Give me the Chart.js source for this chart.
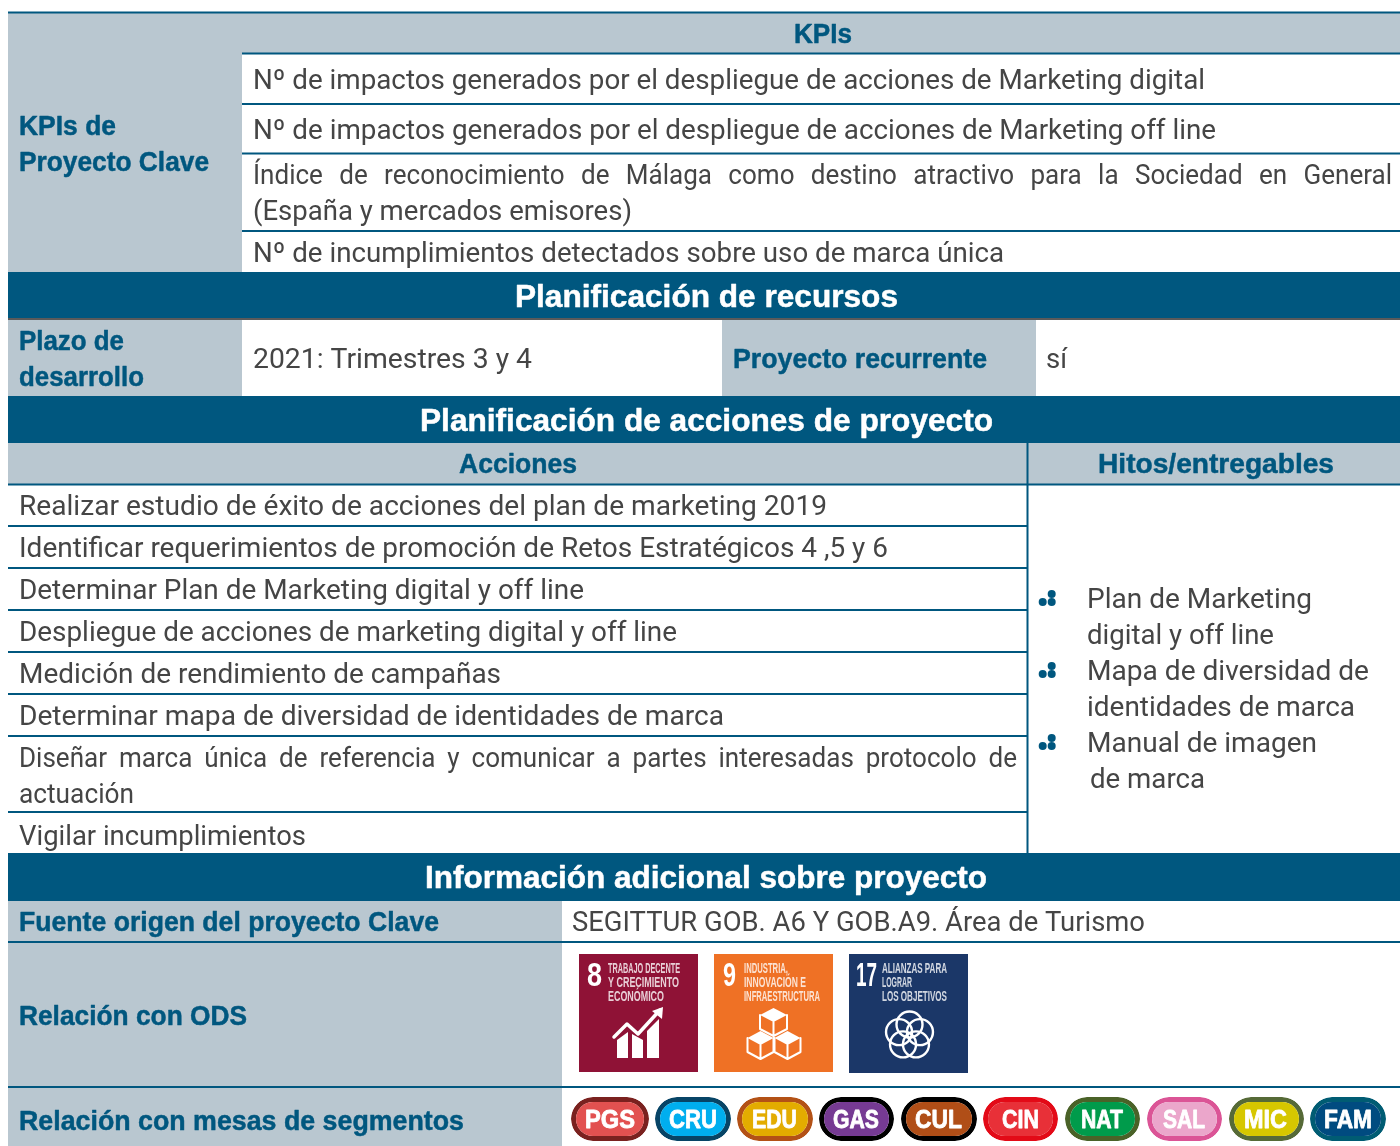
<!DOCTYPE html>
<html lang="es"><head><meta charset="utf-8"><title>KPIs de Proyecto Clave</title>
<style>html,body{margin:0;padding:0;background:#fff}canvas{display:block}</style>
<script src="https://cdn.jsdelivr.net/npm/chart.js@4"></script></head>
<body><canvas id="c" width="1400" height="1146"></canvas>
<script>
// ---------- content ----------
const kpiTitle = ["KPIs de", "Proyecto Clave"];
const kpiHeader = "KPIs";
const kpis = [
 "Nº de impactos generados por el despliegue de acciones de Marketing digital",
 "Nº de impactos generados por el despliegue de acciones de Marketing off line",
 "Índice de reconocimiento de Málaga como destino atractivo para la Sociedad en General",
 "(España y mercados emisores)",
 "Nº de incumplimientos detectados sobre uso de marca única"];
const bands = ["Planificación de recursos", "Planificación de acciones de proyecto", "Información adicional sobre proyecto"];
const plazoLabel = ["Plazo de", "desarrollo"];
const plazoValue = "2021: Trimestres 3 y 4";
const recurrenteLabel = "Proyecto recurrente";
const recurrenteValue = "sí";
const columnHeaders = ["Acciones", "Hitos/entregables"];
const actions = [
 "Realizar estudio de éxito de acciones del plan de marketing 2019",
 "Identificar requerimientos de promoción de Retos Estratégicos 4 ,5 y 6",
 "Determinar Plan de Marketing digital y off line",
 "Despliegue de acciones de marketing digital y off line",
 "Medición de rendimiento de campañas",
 "Determinar mapa de diversidad de identidades de marca",
 "Diseñar marca única de referencia y comunicar a partes interesadas protocolo de",
 "actuación",
 "Vigilar incumplimientos"];
const deliverables = ["Plan de Marketing","digital y off line","Mapa de diversidad de","identidades de marca","Manual de imagen","de marca"];
const infoLabels = ["Fuente origen del proyecto Clave","Relación con ODS","Relación con mesas de segmentos"];
const infoSource = "SEGITTUR GOB. A6 Y GOB.A9. Área de Turismo";
const odsNumbers = ["8","9","17"];
const odsTitles = [["TRABAJO DECENTE","Y CRECIMIENTO","ECONÓMICO"],["INDUSTRIA,","INNOVACIÓN E","INFRAESTRUCTURA"],["ALIANZAS PARA","LOGRAR","LOS OBJETIVOS"]];
const segments = ["PGS","CRU","EDU","GAS","CUL","CIN","NAT","SAL","MIC","FAM"];

// ---------- layout and style ----------
const TEAL="#00577F", GREY="#B9C7D0", INK="#454545", WHITE="#fff", MAROON="#8F1236";
const cells=[ // x0,x1,y0,y1,colour
 [8,242,12,272,GREY],[242,1400,12,54,GREY],
 [8,1400,272,319,TEAL],[8,242,319,396,GREY],[722,1036,319,396,GREY],
 [8,1400,396,443,TEAL],[8,1400,443,484,GREY],
 [8,1400,853,901,TEAL],[8,562,901,1146,GREY]];
const rules=[ // x0,x1,y,colour,thickness
 [8,1400,12.5,TEAL,2],[242,1400,53.5,TEAL,2],[242,1400,104,TEAL,2],[242,1400,153.5,TEAL,2],[242,1400,231,TEAL,2],
 [8,1400,319,"#5a5a5a",2],[8,1400,484.5,TEAL,2],
 [8,1028,526,TEAL,2],[8,1028,568,TEAL,2],[8,1028,610,TEAL,2],[8,1028,652,TEAL,2],[8,1028,694,TEAL,2],[8,1028,736,TEAL,2],[8,1028,812,TEAL,2],
 [8,1400,942,TEAL,2],[8,1400,1087,TEAL,2]];
const vrules=[[1027.5,443,853,TEAL,2]];
const odsBoxes=[[579,698,954,1072,MAROON],[714,833,954,1072,"#EF7125"],[849,968,954,1073,"#1B3768"]];
const pills=[ // x0,x1,fill,border,text x0,x1
 [571,649,"#E25150","#7A211F",585,635],[655,731,"#00AEEF","#074466",669,717],[737,813,"#E3AC00","#B35116",752,797],
 [819,894,"#763A93","#000000",833,879],[901,977,"#B04E17","#000000",915,962],[983,1058,"#E83038","#E30A17",1002,1039],
 [1065,1140,"#009B4B","#4A6228",1081,1123],[1147,1222,"#EBA6CB","#DB5496",1163,1205],[1229,1304,"#D6C700","#566A37",1244,1287],
 [1310,1386,"#004B80","#005C73",1324,1372]];
const bulletAnchors=[[1042.7,602],[1042.7,674],[1042.7,746]];
const bulletOffsets=[[0,0],[9,0],[9,-8]];
const BODY='28px Roboto', HEAD='bold 28px "Liberation Sans"', BAND='bold 31px "Liberation Sans"';
const texts=[ // string, x0, x1, baseline, font, colour, justify
 [kpiHeader,794,852,43,HEAD,TEAL],
 [kpis[0],253,1205,89,BODY,INK],[kpis[1],253,1216,139,BODY,INK],[kpis[2],253,1392,184,BODY,INK,true],[kpis[3],253,632,220,BODY,INK],[kpis[4],253,1004,262,BODY,INK],
 [kpiTitle[0],19,116,135,HEAD,TEAL],[kpiTitle[1],19,209,171,HEAD,TEAL],
 [bands[0],515,898,307,BAND,WHITE],[bands[1],420,993,431,BAND,WHITE],[bands[2],425,987,888,BAND,WHITE],
 [plazoLabel[0],19,124,350,HEAD,TEAL],[plazoLabel[1],19,144,386,HEAD,TEAL],
 [plazoValue,253,532,368,BODY,INK],[recurrenteLabel,733,987,368,HEAD,TEAL],[recurrenteValue,1046,1067,368,BODY,INK],
 [columnHeaders[0],459,577,473,HEAD,TEAL],[columnHeaders[1],1098,1334,473,HEAD,TEAL],
 [actions[0],19,827,515,BODY,INK],[actions[1],19,888,557,BODY,INK],[actions[2],19,584,599,BODY,INK],[actions[3],19,677,641,BODY,INK],
 [actions[4],19,501,683,BODY,INK],[actions[5],19,724,725,BODY,INK],[actions[6],19,1017,767,BODY,INK,true],[actions[7],19,134,803,BODY,INK],[actions[8],19,306,845,BODY,INK],
 [deliverables[0],1087,1312,608,BODY,INK],[deliverables[1],1087,1274,644,BODY,INK],[deliverables[2],1087,1369,680,BODY,INK],
 [deliverables[3],1087,1355,716,BODY,INK],[deliverables[4],1087,1317,752,BODY,INK],[deliverables[5],1090,1205,788,BODY,INK],
 [infoLabels[0],19,439,931,HEAD,TEAL],[infoSource,572,1145,931,BODY,INK],[infoLabels[1],19,247,1025,HEAD,TEAL],[infoLabels[2],19,464,1130,HEAD,TEAL]];

// ---------- chart marks ----------
const bar=(x0,x1,y0,y1,col,extra)=>Object.assign({type:'bar',grouped:false,inflateAmount:0,barThickness:y1-y0,backgroundColor:col,borderWidth:0,
  data:[{x:[x0,x1],y:(y0+y1)/2}]},extra||{});
const datasets=[];
// Chart.js paints datasets last-to-first, so the top layer goes first.
datasets.push({type:'scatter',pointRadius:4,pointHoverRadius:4,backgroundColor:TEAL,borderWidth:0,
  data:bulletAnchors.flatMap(a=>bulletOffsets.map(o=>({x:a[0]+o[0],y:a[1]+o[1]})))});
pills.forEach(p=>datasets.push(bar(p[0],p[1],1097,1141,p[2],{borderColor:p[3],borderWidth:5,borderRadius:22,borderSkipped:false})));
odsBoxes.forEach(b=>datasets.push(bar(b[0],b[1],b[2],b[3],b[4])));
vrules.forEach(r=>datasets.push(bar(r[0]-r[4]/2,r[0]+r[4]/2,r[1],r[2],r[3])));
rules.forEach(r=>datasets.push(bar(r[0],r[1],r[2]-r[4]/2,r[2]+r[4]/2,r[3])));
cells.forEach(c=>datasets.push(bar(c[0],c[1],c[2],c[3],c[4])));

function fit(ctx,s,x0,x1,y,font,col,just,heavy){
  ctx.font=font;ctx.fillStyle=col;ctx.textBaseline='alphabetic';ctx.textAlign='left';
  ctx.wordSpacing='0px';
  const w=ctx.measureText(s).width;
  ctx.save();
  if(just){
    const k=0.93, gaps=s.split(' ').length-1;
    ctx.wordSpacing=((x1-x0)/k-w)/gaps+'px';
    ctx.translate(x0,y);ctx.scale(k,1);
  }else{
    ctx.translate(x0,y);ctx.scale((x1-x0)/w,1);
  }
  ctx.fillText(s,0,0);
  if(heavy){ctx.strokeStyle=col;ctx.lineWidth=heavy;ctx.lineJoin='round';ctx.strokeText(s,0,0);}
  ctx.restore();
  ctx.wordSpacing='0px';
}
function cube(ctx,cx,top,hw,hh,ey){
  ctx.beginPath();
  ctx.moveTo(cx,top);ctx.lineTo(cx+hw,top+ey);ctx.lineTo(cx,top+2*ey);ctx.lineTo(cx-hw,top+ey);ctx.closePath();
  ctx.fill();
  ctx.beginPath();
  ctx.moveTo(cx-hw,top+ey);ctx.lineTo(cx-hw,top+ey+hh);ctx.lineTo(cx,top+2*ey+hh);ctx.lineTo(cx+hw,top+ey+hh);ctx.lineTo(cx+hw,top+ey);
  ctx.moveTo(cx,top+2*ey);ctx.lineTo(cx,top+2*ey+hh);
  ctx.stroke();
}
const tablePlugin={id:'tableText',afterDatasetsDraw(chart){
  const ctx=chart.ctx,X=chart.scales.x,Y=chart.scales.y;
  const px=v=>X.getPixelForValue(v),py=v=>Y.getPixelForValue(v);
  texts.forEach(t=>fit(ctx,t[0],px(t[1]),px(t[2]),py(t[3]),t[4],t[5],t[6],t[4]===BODY?0:0.5));
  pills.forEach((p,i)=>fit(ctx,segments[i],px(p[4]),px(p[5]),py(1128),'bold 25px "Liberation Sans"',WHITE,false,0.8));
  // ODS tiles
  const titleX=[608,744,882];
  const numX=[[587,602],[723,736],[856,877]];
  const titleW=[[72,71,56],[44,62,76],[65,30,65]];
  ctx.save();ctx.filter='blur(0.5px)';
  odsBoxes.forEach((b,i)=>{
    fit(ctx,odsNumbers[i],px(numX[i][0]),px(numX[i][1]),py(986),'bold 33px "Liberation Sans"',WHITE);
    odsTitles[i].forEach((s,j)=>{ctx.save();ctx.globalAlpha=.8;fit(ctx,s,px(titleX[i]),px(titleX[i]+titleW[i][j]),py(973+14*j),'bold 14px "Liberation Sans"',WHITE);ctx.restore();});
  });
  ctx.fillStyle=WHITE;ctx.strokeStyle=WHITE;ctx.lineJoin='round';ctx.lineCap='round';
  // growth icon
  [[[617,1040],[628,1032],[628,1058],[617,1058]],[[632,1034],[643,1040],[643,1058],[632,1058]],[[647,1031],[659,1019],[659,1058],[647,1058]]].forEach(poly=>{
    ctx.beginPath();poly.forEach((q,n)=>n?ctx.lineTo(px(q[0]),py(q[1])):ctx.moveTo(px(q[0]),py(q[1])));ctx.closePath();ctx.fill();});
  ctx.strokeStyle=WHITE;ctx.lineWidth=3.5;ctx.beginPath();ctx.moveTo(px(614),py(1037));ctx.lineTo(px(627),py(1024));ctx.lineTo(px(638),py(1034));ctx.lineTo(px(660),py(1010));ctx.stroke();
  ctx.beginPath();ctx.moveTo(px(652),py(1011));ctx.lineTo(px(663),py(1007));ctx.lineTo(px(662),py(1019));ctx.closePath();ctx.fill();
  // cube icon
  ctx.lineWidth=2;
  cube(ctx,px(773.5),py(1008),13.5,14,7);
  cube(ctx,px(760.5),py(1031),13,14,7);
  cube(ctx,px(787.5),py(1031),13,14,7);
  // flower icon
  ctx.lineWidth=2.4;
  for(let k=0;k<5;k++){const a=(-90+72*k)*Math.PI/180;ctx.beginPath();ctx.arc(px(909.5)+11*Math.cos(a),py(1035.5)+11*Math.sin(a),13,0,2*Math.PI);ctx.stroke();}
  ctx.restore();
}};
new Chart(document.getElementById('c'),{
 data:{datasets},
 options:{responsive:false,animation:false,events:[],clip:false,
  layout:{padding:0,autoPadding:false},
  indexAxis:'y',
  plugins:{legend:{display:false},tooltip:{enabled:false}},
  scales:{
   x:{type:'linear',min:0,max:1400,display:false,offset:false},
   y:{type:'linear',min:0,max:1146,reverse:true,display:false,offset:false}}
 },
 plugins:[tablePlugin]
});
</script></body></html>
